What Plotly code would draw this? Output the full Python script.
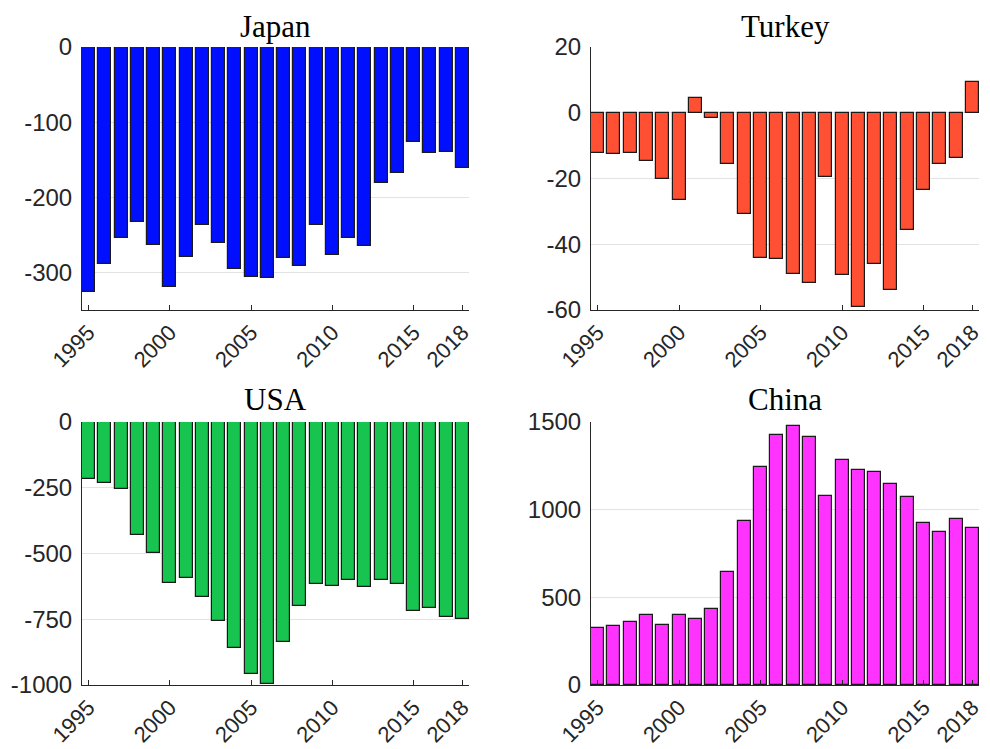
import plotly.graph_objects as go

years = list(range(1995, 2019))
japan = [-326.7, -289.4, -253.9, -233.5, -263.6, -320.0, -279.2, -237.0, -261.0, -296.0,
         -305.8, -307.0, -280.5, -292.0, -236.6, -277.0, -254.0, -265.0, -180.6, -168.2,
         -126.0, -141.6, -139.4, -161.1]
turkey = [-12.2, -12.6, -12.1, -14.7, -20.3, -26.4, 4.4, -1.7, -15.7, -30.8,
          -44.2, -44.5, -48.9, -51.7, -19.4, -49.3, -59.2, -46.1, -53.9, -35.7,
          -23.6, -15.7, -13.8, 9.3]
usa = [-218, -233, -255, -431, -499, -611, -593, -667, -757, -861,
       -958, -995, -838, -700, -617, -624, -601, -627, -600, -617,
       -719, -708, -743, -750]
china = [327, 336, 361, 399, 344, 399, 374, 432, 643, 937,
         1243, 1424, 1477, 1413, 1080, 1281, 1226, 1217, 1144, 1072,
         926, 873, 947, 897]

titles = ["Japan", "Turkey", "USA", "China"]
series = [japan, turkey, usa, china]
colors = ["#0010FF", "#FF5033", "#18C450", "#FF33FF"]
xticks = [1995, 2000, 2005, 2010, 2015, 2018]
yranges = [[-350, 0], [-60, 20], [-1000, 0], [0, 1500]]
yticks = [[0, -100, -200, -300], [20, 0, -20, -40, -60],
          [0, -250, -500, -750, -1000], [0, 500, 1000, 1500]]

# page body has an 8px margin; draw a slightly smaller figure and offset by it
OFF = 8
W, H = 990 - OFF, 749 - OFF
# pixel boxes in window coordinates (x0, x1, ytop, ybottom)
boxes = [(82, 469, 47, 310), (591, 979, 47, 310),
         (82, 469, 422, 685), (591, 979, 422, 685)]
title_tops = [8, 8, 381, 381]

fig = go.Figure()
ytickfont = dict(family="Liberation Sans, Arial, sans-serif", size=24, color="#262626")
xtickfont = dict(family="Liberation Sans, Arial, sans-serif", size=22, color="#262626")

for i in range(4):
    n = "" if i == 0 else str(i + 1)
    fig.add_trace(go.Bar(
        x=years, y=series[i], width=0.8,
        marker=dict(color=colors[i], line=dict(color="#1a1a1a", width=1.2)),
        xaxis="x" + n, yaxis="y" + n, showlegend=False))
    x0, x1, yt, yb = [v - OFF for v in boxes[i]]
    fig.layout["xaxis" + n] = dict(
        domain=[x0 / W, x1 / W], anchor="y" + n, range=[1994.6, 2018.4],
        tickvals=xticks, ticktext=[str(t) for t in xticks], tickangle=-45,
        ticks="inside", ticklen=5, tickcolor="#262626", showline=True,
        linecolor="#262626", linewidth=1, showgrid=False, zeroline=False,
        tickfont=xtickfont, ticklabelstandoff=0, automargin=False)
    fig.layout["yaxis" + n] = dict(
        domain=[1 - yb / H, 1 - yt / H], anchor="x" + n, range=yranges[i],
        tickvals=yticks[i], ticktext=[str(t) for t in yticks[i]],
        ticks="", showline=True, linecolor="#262626",
        linewidth=1, showgrid=True, gridcolor="#e3e3e3", gridwidth=1,
        zeroline=False, tickfont=ytickfont, ticklabelstandoff=4, automargin=False)
    fig.add_annotation(
        x=(x0 + x1) / 2 / W, y=1 - (title_tops[i] - OFF) / H, xref="paper", yref="paper",
        text=titles[i], showarrow=False, xanchor="center", yanchor="top", borderpad=0,
        font=dict(family="Liberation Serif, Times New Roman, serif", size=31, color="#000000"))

fig.update_layout(width=W, height=H, margin=dict(l=0, r=0, t=0, b=0),
                  paper_bgcolor="white", plot_bgcolor="white", bargap=0)
fig.write_html("out.html")
